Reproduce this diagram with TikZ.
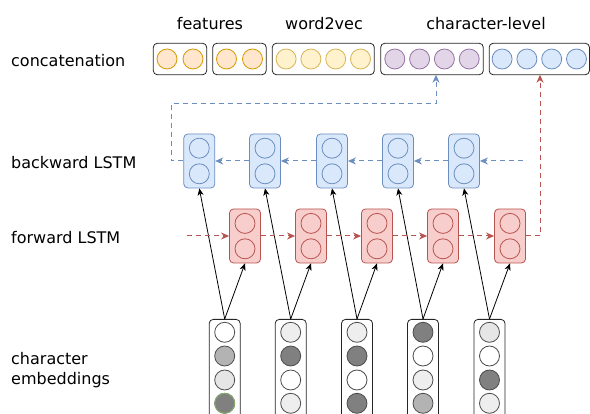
\documentclass[tikz,border=0pt]{standalone}
\usepackage{fontspec}
\setmainfont{DejaVu Sans}
\usetikzlibrary{arrows.meta}
\definecolor{orF}{HTML}{FFE6CC}\definecolor{orD}{HTML}{D79B00}
\definecolor{yeF}{HTML}{FFF2CC}\definecolor{yeD}{HTML}{D6B656}
\definecolor{puF}{HTML}{E1D5E7}\definecolor{puD}{HTML}{9673A6}
\definecolor{blF}{HTML}{DAE8FC}\definecolor{blD}{HTML}{6C8EBF}
\definecolor{reF}{HTML}{F8CECC}\definecolor{reD}{HTML}{B85450}
\definecolor{gA}{HTML}{B3B3B3}\definecolor{gB}{HTML}{808080}
\definecolor{gC}{HTML}{E6E6E6}\definecolor{gD}{HTML}{EEEEEE}
\definecolor{grD}{HTML}{82B366}
\begin{document}
\begin{tikzpicture}[x=1pt,y=-1pt,
  lbl/.style={font=\fontsize{16}{20}\selectfont, inner sep=0pt},
  cbox/.style={draw=black!85, fill=white, rounded corners=4pt, line width=0.8pt, inner sep=0pt, minimum height=31.4pt},
  cell/.style={circle, inner sep=0pt, minimum size=20pt, line width=0.8pt},
  lbox/.style={rounded corners=4pt, line width=0.8pt, inner sep=0pt, minimum width=31pt, minimum height=54pt},
  bwbox/.style={lbox, draw=blD, fill=blF},
  fwbox/.style={lbox, draw=reD, fill=reF},
  ebox/.style={draw=black!85, fill=white, rounded corners=4pt, line width=0.8pt, inner sep=0pt, minimum width=31pt, minimum height=130pt, anchor=north},
  bwline/.style={draw=blD, line width=1pt, dash pattern=on 5pt off 4pt, -{Stealth[length=8pt,width=7pt,inset=2.5pt]}},
  fwline/.style={draw=reD, line width=1pt, dash pattern=on 5pt off 4pt, -{Stealth[length=8pt,width=7pt,inset=2.5pt]}},
  inarr/.style={draw=black, line width=0.8pt, -{Stealth[length=7pt,width=6pt,inset=2pt]}}
]
\useasboundingbox (0,0) rectangle (590,414);
\clip (0,0) rectangle (590,414);

% left labels
\node[lbl, anchor=west] (lcat) at (11,61) {concatenation};
\node[lbl, anchor=west] (lbw) at (11,163) {backward LSTM};
\node[lbl, anchor=west] (lfw) at (11,238) {forward LSTM};
\node[lbl, anchor=west, align=left] (lemb) at (11,370) {character\\embeddings};

% top labels
\node[lbl] (tfeat) at (210,24) {features};
\node[lbl] (tw2v) at (324,24) {word2vec};
\node[lbl] (tchar) at (486,24) {character-level};

% concatenation boxes
\node[cbox, minimum width=53.4pt] (c1) at (180,59) {};
\node[cbox, minimum width=53.4pt] (c2) at (239.5,59) {};
\node[cbox, minimum width=102pt] (c3) at (323.3,59) {};
\node[cbox, minimum width=102.6pt] (c4) at (432,59) {};
\node[cbox, minimum width=100.3pt] (c5) at (539.3,59) {};
\foreach \b in {1,2}{
  \foreach \o [count=\k] in {-13,13}{
    \node[cell, draw=orD, fill=orF] (c\b o\k) at ([xshift=\o pt]c\b.center) {};
  }
}
\foreach \o [count=\k] in {-37.2,-12.4,12.4,37.2}{
  \node[cell, draw=yeD, fill=yeF] (c3o\k) at ([xshift=\o pt]c3.center) {};
  \node[cell, draw=puD, fill=puF] (c4o\k) at ([xshift=\o pt]c4.center) {};
  \node[cell, draw=blD, fill=blF] (c5o\k) at ([xshift=\o pt]c5.center) {};
}

% LSTM boxes
\foreach \x [count=\i] in {199.3,265,332,398,464}{
  \node[bwbox] (b\i) at (\x,161) {};
  \node[cell, draw=blD, fill=blF] (b\i u) at ([yshift=12.8pt]b\i.center) {};
  \node[cell, draw=blD, fill=blF] (b\i d) at ([yshift=-12.8pt]b\i.center) {};
}
\foreach \x [count=\i] in {245,311,377,443,510}{
  \node[fwbox] (f\i) at (\x,236) {};
  \node[cell, draw=reD, fill=reF] (f\i u) at ([yshift=12.6pt]f\i.center) {};
  \node[cell, draw=reD, fill=reF] (f\i d) at ([yshift=-12.8pt]f\i.center) {};
}

% embedding columns
\foreach \x [count=\i] in {224.7,290.7,357,423,489.5}{
  \node[ebox] (e\i) at (\x,319) {};
}
\foreach \i/\ca/\cb/\cc/\cd in {1/white/gA/gC/gB, 2/gD/gB/white/gD, 3/gD/gB/white/gB, 4/gB/white/gD/gA, 5/gC/white/gB/gD}{
  \node[cell, draw=black!70, fill=\ca] (e\i a) at ([yshift=-13.3pt]e\i.north) {};
  \node[cell, draw=black!70, fill=\cb] (e\i b) at ([yshift=-37pt]e\i.north) {};
  \node[cell, draw=black!70, fill=\cc] (e\i c) at ([yshift=-61pt]e\i.north) {};
  \node[cell, draw=black!70, fill=\cd] (e\i d) at ([yshift=-84.3pt]e\i.north) {};
}
\node[cell, draw=grD, fill=gB] (e1dd) at (e1d) {};

% input arrows
\foreach \i in {1,...,5}{
  \draw[inarr] (e\i.north) -- (b\i.south);
  \draw[inarr] (e\i.north) -- (f\i.south);
}

% backward recurrence
\coordinate (bwin) at (523,161);
\coordinate (bwturn) at (171,104);
\coordinate (c4in) at (436,74.7);
\draw[bwline] (bwin) -- (b5.east);
\draw[bwline] (b5.west) -- (b4.east);
\draw[bwline] (b4.west) -- (b3.east);
\draw[bwline] (b3.west) -- (b2.east);
\draw[bwline] (b2.west) -- (b1.east);
\draw[bwline] (b1.west) -| (bwturn) -| (c4in);

% forward recurrence
\coordinate (fwin) at (187,236);
\coordinate (c5in) at (540,74.7);
\draw[fwline] (fwin) -- (f1.west);
\draw[fwline] (f1.east) -- (f2.west);
\draw[fwline] (f2.east) -- (f3.west);
\draw[fwline] (f3.east) -- (f4.west);
\draw[fwline] (f4.east) -- (f5.west);
\draw[fwline] (f5.east) -| (c5in);
\end{tikzpicture}
\end{document}
